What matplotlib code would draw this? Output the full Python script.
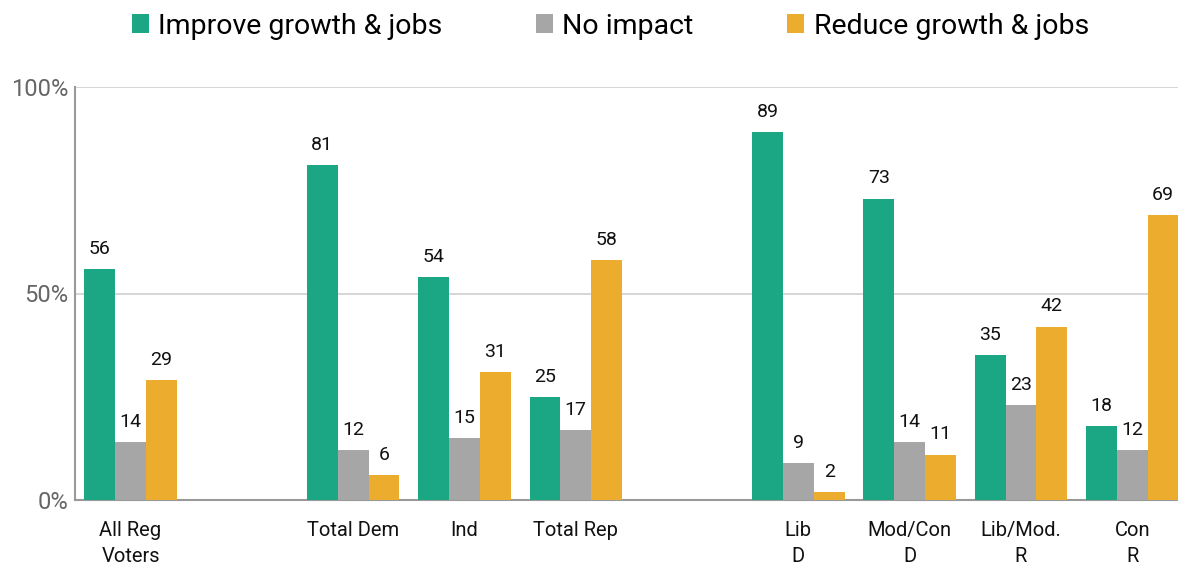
import numpy as np
import matplotlib.pyplot as plt

plt.rcParams['font.family'] = ['Roboto', 'DejaVu Sans']

groups = ['All Reg\nVoters', 'Total Dem', 'Ind', 'Total Rep',
          'Lib\nD', 'Mod/Con\nD', 'Lib/Mod.\nR', 'Con\nR']
slots = [0, 2, 3, 4, 6, 7, 8, 9]
improve = [56, 81, 54, 25, 89, 73, 35, 18]
no_impact = [14, 12, 15, 17, 9, 14, 23, 12]
reduce = [29, 6, 31, 58, 2, 11, 42, 69]

series = [('Improve growth & jobs', improve, '#1ba784'),
          ('No impact', no_impact, '#a6a6a6'),
          ('Reduce growth & jobs', reduce, '#ecac2e')]

fig = plt.figure(figsize=(11.78, 5.65), dpi=100)
ax = fig.add_axes([75 / 1178, 65 / 565, 1 - 75 / 1178, 413 / 565])

x = np.array(slots, dtype=float)
w = 0.277
for i, (name, vals, col) in enumerate(series):
    pos = x + (i - 1) * w
    ax.bar(pos, vals, w, color=col, label=name, zorder=3)
    for p, v in zip(pos, vals):
        ax.annotate(str(v), (p, v), xytext=(0, 8), textcoords='offset points',
                    ha='center', va='bottom', fontsize=14, color='#111111')

ax.set_xlim(-0.499, 9.411)
ax.set_ylim(0, 100)
ax.set_yticks([0, 50, 100])
ax.set_yticklabels(['0%', '50%', '100%'], fontsize=17, color='#666666')
ax.set_xticks(x)
ax.set_xticklabels(groups, fontsize=14.5, color='#111111', linespacing=1.5)
ax.tick_params(axis='both', length=0)
ax.tick_params(axis='x', pad=15)
ax.tick_params(axis='y', pad=5)
ax.grid(axis='y', color='#cfcfcf', linewidth=1.2, zorder=0)
for s in ['top', 'right']:
    ax.spines[s].set_visible(False)
for s in ['left', 'bottom']:
    ax.spines[s].set_color('#999999')
    ax.spines[s].set_linewidth(1.5)

fig.legend(loc='center', bbox_to_anchor=(0.518, 1 - 26 / 565), ncol=3, frameon=False,
           fontsize=20.5, handlelength=0.6, handleheight=0.6, handletextpad=0.32,
           columnspacing=3.3)

fig.savefig('out.png', dpi=100)
